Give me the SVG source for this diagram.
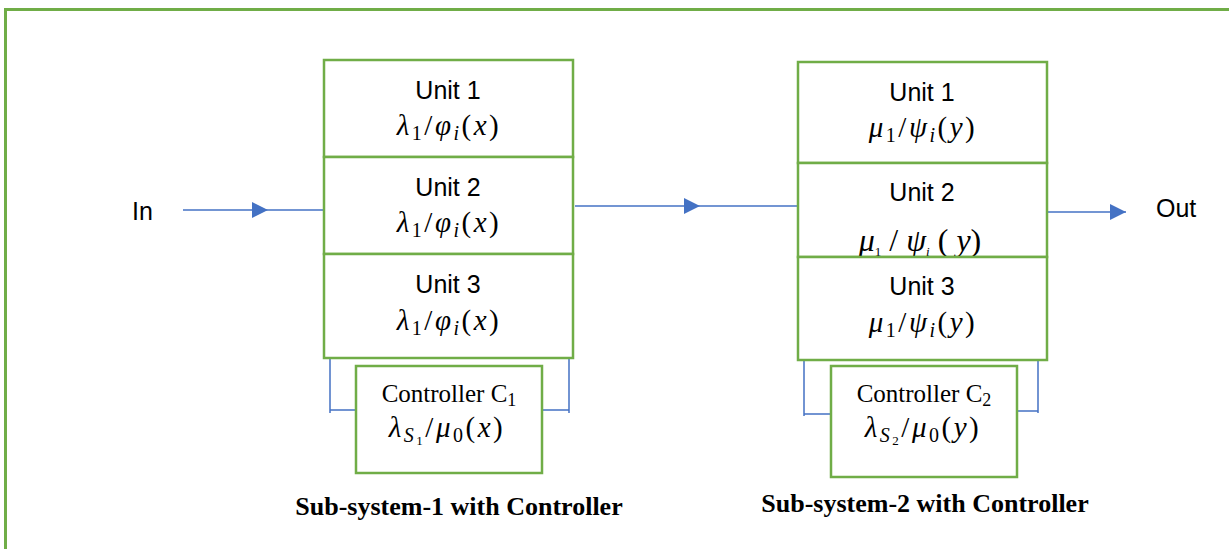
<svg xmlns="http://www.w3.org/2000/svg" width="1229" height="549" viewBox="0 0 1229 549">
<style>
.box{fill:#fff;stroke:#70AD47;stroke-width:2.5}
.frame{fill:none;stroke:#70AD47;stroke-width:3}
.wire{fill:none;stroke:#4472C4;stroke-width:1.5}
.lbl{font-family:"Liberation Sans",Arial,sans-serif;font-size:25px;fill:#000}
.math{font-family:"Liberation Serif","Times New Roman",serif;font-size:29px;letter-spacing:2.5px;fill:#000}
.it{font-style:italic}
.sub{font-size:20px}
.ctl{font-family:"Liberation Serif","Times New Roman",serif;font-size:25px;fill:#000}
.csub{font-size:18px}
.cap{font-family:"Liberation Serif","Times New Roman",serif;font-size:26px;font-weight:bold;fill:#000}
</style>
<defs>
<marker id="ah" markerUnits="userSpaceOnUse" markerWidth="16" markerHeight="16" viewBox="0 0 15 15" refX="15" refY="7.5" orient="auto">
<path d="M0,0 L15,7.5 L0,15 z" fill="#4472C4"/>
</marker>
</defs>
<rect width="1229" height="549" fill="#fff"/>
<rect class="frame" x="5.5" y="9.5" width="1240" height="560"/>

<g id="connectors">
<path class="wire" d="M183,210 L268,210 L324,210" marker-mid="url(#ah)"/>
<path class="wire" d="M575,206 L700,206 L802,206" marker-mid="url(#ah)"/>
<path class="wire" d="M1046,212 L1126,212" marker-end="url(#ah)"/>
<path class="wire" d="M330,353 V413 M330,410 H356"/>
<path class="wire" d="M569,353 V413 M542,410 H569"/>
<path class="wire" d="M804,355 V416 M804,414 H831"/>
<path class="wire" d="M1038,355 V413 M1017,411 H1038"/>
</g>

<g id="in-label"><text class="lbl" x="132" y="220">In</text></g>
<g id="out-label"><text class="lbl" x="1156" y="217">Out</text></g>

<g id="s1-unit1">
<rect class="box" x="324" y="60" width="249" height="97"/>
<text class="lbl" x="448" y="99" text-anchor="middle">Unit 1</text>
<text class="math" x="449" y="135" text-anchor="middle"><tspan class="it">λ</tspan><tspan class="sub" dy="5">1</tspan><tspan dy="-5">/</tspan><tspan class="it">φ</tspan><tspan class="sub it" dy="5">i</tspan><tspan dy="-5">(</tspan><tspan class="it">x</tspan>)</text>
</g>
<g id="s1-unit2">
<rect class="box" x="324" y="157" width="249" height="97"/>
<text class="lbl" x="448" y="196" text-anchor="middle">Unit 2</text>
<text class="math" x="449" y="232" text-anchor="middle"><tspan class="it">λ</tspan><tspan class="sub" dy="5">1</tspan><tspan dy="-5">/</tspan><tspan class="it">φ</tspan><tspan class="sub it" dy="5">i</tspan><tspan dy="-5">(</tspan><tspan class="it">x</tspan>)</text>
</g>
<g id="s1-unit3">
<rect class="box" x="324" y="254" width="249" height="104"/>
<text class="lbl" x="448" y="293" text-anchor="middle">Unit 3</text>
<text class="math" x="449" y="330" text-anchor="middle"><tspan class="it">λ</tspan><tspan class="sub" dy="5">1</tspan><tspan dy="-5">/</tspan><tspan class="it">φ</tspan><tspan class="sub it" dy="5">i</tspan><tspan dy="-5">(</tspan><tspan class="it">x</tspan>)</text>
</g>
<g id="s1-controller">
<rect class="box" x="356" y="366" width="186" height="107"/>
<text class="ctl" x="449" y="402" text-anchor="middle">Controller C<tspan class="csub" dy="4">1</tspan></text>
<text class="math" x="447" y="437" text-anchor="middle"><tspan class="it">λ</tspan><tspan class="sub it" dy="5">S</tspan><tspan style="font-size:13px" dy="3">1</tspan><tspan dy="-8">/</tspan><tspan class="it">μ</tspan><tspan class="sub" dy="5">0</tspan><tspan dy="-5">(</tspan><tspan class="it">x</tspan>)</text>
</g>

<g id="s2-unit1">
<rect class="box" x="798" y="62" width="249" height="101"/>
<text class="lbl" x="922" y="101" text-anchor="middle">Unit 1</text>
<text class="math" x="923" y="137" text-anchor="middle"><tspan class="it">μ</tspan><tspan class="sub" dy="5">1</tspan><tspan dy="-5">/</tspan><tspan class="it">ψ</tspan><tspan class="sub it" dy="5">i</tspan><tspan dy="-5">(</tspan><tspan class="it">y</tspan>)</text>
</g>
<g id="s2-unit2">
<rect class="box" x="798" y="163" width="249" height="94"/>
<text class="lbl" x="922" y="201" text-anchor="middle">Unit 2</text>
<text x="920" y="251" text-anchor="middle" style="font-family:'Liberation Serif','Times New Roman',serif;font-size:32px;fill:#000"><tspan class="it">μ</tspan><tspan style="font-size:13px" dy="5">1</tspan><tspan dy="-5"> / </tspan><tspan class="it">ψ</tspan><tspan class="it" style="font-size:13px" dy="5">i</tspan><tspan dy="-5"> (</tspan><tspan class="it"> y</tspan>)</text>
</g>
<g id="s2-unit3">
<rect class="box" x="798" y="257" width="249" height="103"/>
<text class="lbl" x="922" y="295" text-anchor="middle">Unit 3</text>
<text class="math" x="923" y="332" text-anchor="middle"><tspan class="it">μ</tspan><tspan class="sub" dy="5">1</tspan><tspan dy="-5">/</tspan><tspan class="it">ψ</tspan><tspan class="sub it" dy="5">i</tspan><tspan dy="-5">(</tspan><tspan class="it">y</tspan>)</text>
</g>
<g id="s2-controller">
<rect class="box" x="831" y="366" width="186" height="111"/>
<text class="ctl" x="924" y="402" text-anchor="middle">Controller C<tspan class="csub" dy="4">2</tspan></text>
<text class="math" x="923" y="437" text-anchor="middle"><tspan class="it">λ</tspan><tspan class="sub it" dy="5">S</tspan><tspan style="font-size:13px" dy="3">2</tspan><tspan dy="-8">/</tspan><tspan class="it">μ</tspan><tspan class="sub" dy="5">0</tspan><tspan dy="-5">(</tspan><tspan class="it">y</tspan>)</text>
</g>

<g id="captions">
<text class="cap" x="459" y="515" text-anchor="middle">Sub-system-1 with Controller</text>
<text class="cap" x="925" y="512" text-anchor="middle">Sub-system-2 with Controller</text>
</g>
</svg>
